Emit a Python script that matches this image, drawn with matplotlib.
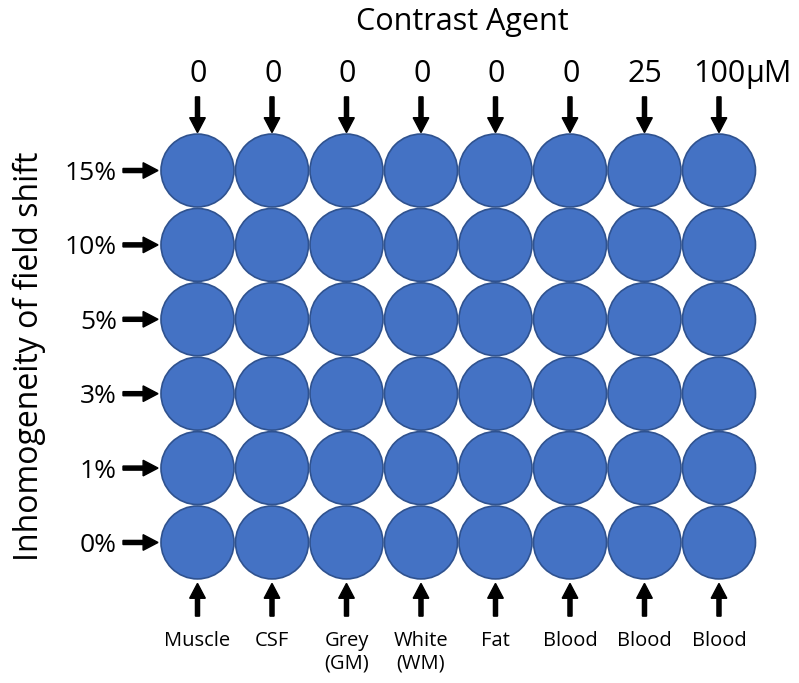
import matplotlib.pyplot as plt
from matplotlib.patches import Circle

# grid content
tissues = ["Muscle", "CSF", "Grey\n(GM)", "White\n(WM)", "Fat", "Blood", "Blood", "Blood"]
agent = ["0", "0", "0", "0", "0", "0", "25", "100"]
unit = "µM"
shifts = ["15%", "10%", "5%", "3%", "1%", "0%"]

fill = "#4472C4"
edge = "#2F528F"
plt.rcParams['font.family'] = ['Open Sans', 'DejaVu Sans']

fig = plt.figure(figsize=(7.99, 6.83), dpi=100)
ax = fig.add_axes([0, 0, 1, 1])
ax.set_xlim(-2.651, 8.074)
ax.set_ylim(6.889, -2.292)
ax.axis('off')

ncol = len(tissues)
nrow = len(shifts)

for r in range(nrow):
    for c in range(ncol):
        ax.add_patch(Circle((c, r), 0.49, facecolor=fill, edgecolor=edge, lw=1.2))

arr = dict(width=0.055, head_width=0.21, head_length=0.2,
           length_includes_head=True, color='black')

# top: contrast agent concentration
for c in range(ncol):
    ax.arrow(c, -0.99, 0, 0.48, **arr)
    t = ax.text(c + 0.01, -1.3, agent[c], ha='center', va='center', fontsize=22)
# unit sits after the last number
ax.annotate(unit, xy=(1, 0), xycoords=t, ha='left', va='bottom', fontsize=22)
ax.text((ncol - 1) / 2 + 0.06, -1.99, "Contrast Agent", ha='center', va='center',
        fontsize=22)

# left: field shift
for r in range(nrow):
    ax.arrow(-1.0, r, 0.47, 0, **arr)
    ax.text(-1.08, r + 0.04, shifts[r], ha='right', va='center', fontsize=19)
ax.text(-2.25, (nrow - 1) / 2, "Inhomogeneity of field shift", rotation=90,
        ha='center', va='center', fontsize=23)

# bottom: tissue type
for c in range(ncol):
    ax.arrow(c, nrow - 1 + 0.99, 0, -0.44, **arr)
    for k, line in enumerate(tissues[c].split("\n")):
        ax.text(c, nrow - 1 + 1.33 + 0.3 * k, line, ha='center', va='center',
                fontsize=14.5)

fig.savefig("out.png", dpi=100)
